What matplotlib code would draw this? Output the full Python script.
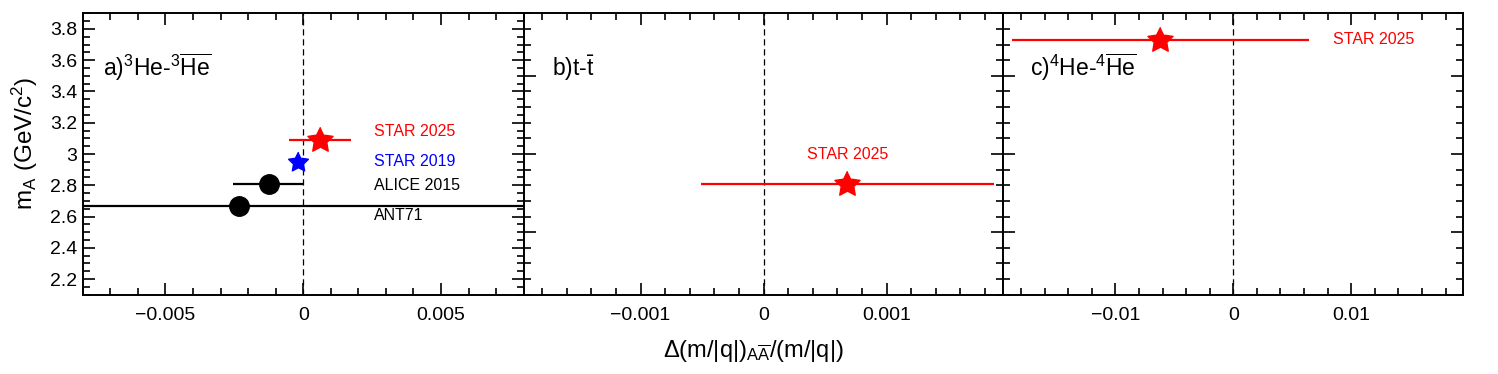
import matplotlib
matplotlib.use("Agg")
import matplotlib.pyplot as plt
import numpy as np
from matplotlib.ticker import MultipleLocator, FuncFormatter

plt.rcParams["font.family"] = ["Liberation Sans", "DejaVu Sans"]
plt.rcParams["mathtext.fontset"] = "custom"
plt.rcParams["mathtext.rm"] = "Liberation Sans"
plt.rcParams["mathtext.it"] = "Liberation Sans:italic"
plt.rcParams["mathtext.bf"] = "Liberation Sans:bold"
plt.rcParams["axes.unicode_minus"] = True

# panel a: 3He - anti-3He
he3_labels = ["STAR 2025", "STAR 2019", "ALICE 2015", "ANT71"]
he3_dx = [0.0006, -0.00018, -0.00125, -0.00232]
he3_err = [0.00112, 0.0002, 0.00128, 0.03]
he3_mass = [3.09, 2.95, 2.81, 2.67]
he3_label_y = [3.145, 2.95, 2.80, 2.605]

# panel b: t - anti-t
t_labels = ["STAR 2025"]
t_dx = [0.00068]
t_err = [0.00119]
t_mass = [2.81]

# panel c: 4He - anti-4He
he4_labels = ["STAR 2025"]
he4_dx = [-0.0062]
he4_err = [0.0126]
he4_mass = [3.73]

panel_titles = [r"a)$^{3}$He-$^{3}\overline{\mathrm{He}}$",
                r"b)t-$\bar{\mathrm{t}}$",
                r"c)$^{4}$He-$^{4}\overline{\mathrm{He}}$"]


def star_marker(inner=0.5):
    ang = np.pi / 2 + np.arange(10) * np.pi / 5
    r = np.where(np.arange(10) % 2 == 0, 1.0, inner)
    return np.column_stack([r * np.cos(ang), r * np.sin(ang)])


STAR = star_marker()


def style_axis(ax, xlim, xmaj, xmin, ymaj, ymin, ylabels):
    ax.set_xlim(*xlim)
    ax.set_ylim(2.1, 3.9)
    ax.xaxis.set_major_locator(MultipleLocator(xmaj))
    ax.xaxis.set_minor_locator(MultipleLocator(xmin))
    ax.yaxis.set_major_locator(MultipleLocator(ymaj))
    ax.yaxis.set_minor_locator(MultipleLocator(ymin))
    ax.xaxis.set_major_formatter(FuncFormatter(lambda v, p: "0" if abs(v) < 1e-12 else f"{v:g}".replace("-", "\u2212")))
    ax.yaxis.set_major_formatter(FuncFormatter(lambda v, p: f"{v:g}"))
    ax.tick_params(which="both", direction="in", top=True, right=True, width=1.2,
                   labelsize=14)
    ax.tick_params(which="major", length=8.8)
    ax.tick_params(which="minor", length=5)
    ax.tick_params(axis="x", pad=9)
    ax.tick_params(axis="y", pad=4, labelleft=ylabels)
    for s in ax.spines.values():
        s.set_linewidth(1.4)
    ax.axvline(0, color="black", lw=0.9, ls=(0, (5, 3)), zorder=1)


fig = plt.figure(figsize=(14.98, 3.74), dpi=100)
bottom, height = 0.212, 0.7524
ax_a = fig.add_axes([0.0552, bottom, 0.2944, height])
ax_b = fig.add_axes([0.3496, bottom, 0.3202, height])
ax_c = fig.add_axes([0.6698, bottom, 0.3070, height])

style_axis(ax_a, (-0.008, 0.008), 0.005, 0.001, 0.2, 0.05, True)
style_axis(ax_b, (-0.00195, 0.00195), 0.001, 0.0002, 0.5, 0.1, False)
style_axis(ax_c, (-0.0195, 0.0195), 0.01, 0.002, 0.5, 0.1, False)

# panel a points
he3_colors = ["#ff0000", "#0000ff", "black", "black"]
he3_markers = [STAR, STAR, "o", "o"]
he3_sizes = [19, 15, 14, 14]
for i in range(len(he3_labels)):
    ax_a.errorbar(he3_dx[i], he3_mass[i], xerr=he3_err[i], fmt="none",
                  ecolor=he3_colors[i], elinewidth=1.6, capsize=0, zorder=3)
    ax_a.plot(he3_dx[i], he3_mass[i], marker=he3_markers[i], ms=he3_sizes[i],
              color=he3_colors[i], mec=he3_colors[i], ls="none", zorder=4)
    ax_a.text(0.00257, he3_label_y[i], he3_labels[i], color=he3_colors[i],
              fontsize=11.5, ha="left", va="center")

# panel b
ax_b.errorbar(t_dx, t_mass, xerr=t_err, fmt="none", ecolor="#ff0000",
              elinewidth=1.6, capsize=0, zorder=3)
ax_b.plot(t_dx, t_mass, marker=STAR, ms=19, color="#ff0000", ls="none", zorder=4)
ax_b.text(t_dx[0], 3.0, t_labels[0], color="#ff0000", fontsize=11.5,
          ha="center", va="center")

# panel c
ax_c.errorbar(he4_dx, he4_mass, xerr=he4_err, fmt="none", ecolor="#ff0000",
              elinewidth=1.6, capsize=0, zorder=3)
ax_c.plot(he4_dx, he4_mass, marker=STAR, ms=19, color="#ff0000", ls="none", zorder=4)
ax_c.text(0.00844, he4_mass[0], he4_labels[0], color="#ff0000", fontsize=11.5,
          ha="left", va="center")

# panel titles
for ax, title, x in zip([ax_a, ax_b, ax_c], panel_titles, [-0.00727, -0.00172, -0.0172]):
    ax.text(x, 3.5, title, fontsize=16.5, ha="left", va="baseline")

ax_a.set_ylabel(r"m$_{\mathrm{A}}$ (GeV/c$^{2}$)", fontsize=17.5, va="baseline")
ax_a.yaxis.set_label_coords(-0.112, 0.538)
ax_b.set_xlabel(r"$\Delta$(m/|q|)$_{\mathrm{A\overline{A}}}$/(m/|q|)", fontsize=17,
                va="baseline")
ax_b.xaxis.set_label_coords(0.478, -0.2203)

fig.savefig("out.png", dpi=100)
